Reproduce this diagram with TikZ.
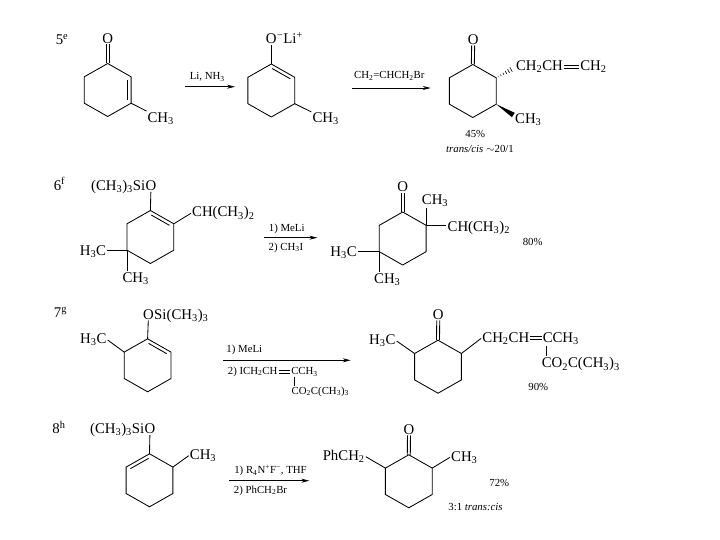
\documentclass[tikz,border=0pt]{standalone}
\usepackage{fontspec}
\setmainfont{Liberation Serif}
\usetikzlibrary{arrows.meta,calc,positioning}

\newcommand{\low}[1]{\textsubscript{#1}}
\newcommand{\high}[1]{\textsuperscript{#1}}
\tikzset{
	atom/.style={inner sep=1pt,font=\fontsize{14.8}{17}\selectfont},
	note/.style={inner sep=1pt,font=\fontsize{10.8}{12}\selectfont},
	bond/.style={line width=.85pt},
	rxn/.style={line width=.65pt,-{Stealth[length=8pt,width=4pt]}}
}
% six ring corners a..f, clockwise from the top
\newcommand{\ringat}[3]{
	\coordinate (#1a) at (#2,#3-26.5);
	\coordinate (#1b) at (#2+23.4,#3-13.2);
	\coordinate (#1c) at (#2+23.4,#3+13.2);
	\coordinate (#1d) at (#2,#3+26.5);
	\coordinate (#1e) at (#2-23.4,#3+13.2);
	\coordinate (#1f) at (#2-23.4,#3-13.2);
	\draw[bond] (#1a) -- (#1b) -- (#1c) -- (#1d) -- (#1e) -- (#1f) -- cycle;
}
\newcommand{\inner}[2]{
	\draw[bond,shorten <=3pt,shorten >=3pt] ($(#1)!3.5pt!-90:(#2)$) -- ($(#2)!3.5pt!90:(#1)$);
}
\newcommand{\dblbond}[2]{
	\path (#1) -- (#2) coordinate[pos=0] (dbp) coordinate[pos=1] (dbq);
	\draw[bond] ($(dbp)!1.5pt!90:(dbq)$) -- ($(dbq)!1.5pt!-90:(dbp)$);
	\draw[bond] ($(dbp)!1.5pt!-90:(dbq)$) -- ($(dbq)!1.5pt!90:(dbp)$);
}

\begin{document}
\begin{tikzpicture}[x=1pt,y=-1pt]
	\path[use as bounding box,fill=white] (0,0) rectangle (720,540);

	% 5
	\node[atom] (numa) at (62,40) {5\high{e}};
	\ringat{ka}{107.7}{90}
	\node[atom] (kao) at (107.7,38.3) {O};
	\node[atom] (kam) at (160.7,118.3) {CH\low{3}};
	\dblbond{kaa}{kao}
	\draw[bond] (kac) -- (kam);
	\inner{kab}{kac}
	\coordinate (arai) at (185,86.7);
	\coordinate (araii) at (235,86.7);
	\draw[rxn] (arai) -- (araii);
	\node[note] (lia) at (207.3,76.7) {Li, NH\low{3}};

	\ringat{kb}{271.3}{90.5}
	\node[atom] (kbo) at (271.3,39) {O};
	\node[atom,anchor=base west,inner sep=0pt] (kbl) at ([xshift=-1pt]kbo.base east) {\high{−}Li\high{+}};
	\node[atom] (kbm) at (325.7,119) {CH\low{3}};
	\draw[bond] (kba) -- (kbo);
	\draw[bond] (kbc) -- (kbm);
	\inner{kba}{kbb}
	\coordinate (arbi) at (351.7,88);
	\coordinate (arbii) at (430.7,88);
	\draw[rxn] (arbi) -- (arbii);
	\node[note] (lib) at (389.3,75.7) {CH\low{2}=CHCH\low{2}Br};

	\ringat{kc}{472.8}{91}
	\node[atom] (kco) at (473.3,39.3) {O};
	\node[atom] (kcm) at (528.3,119.3) {CH\low{3}};
	\node[atom] (allyla) at (539.5,66.7) {CH\low{2}CH};
	\node[atom,right=15pt of allyla] (allylb) {CH\low{2}};
	\coordinate (kch) at (513.3,68.3);
	\coordinate (kcw) at (513.3,115);
	\dblbond{kca}{kco}
	\dblbond{allyla}{allylb}
	\foreach \t in {.12,.27,.42,.57,.72,.87}{
		\pgfmathsetmacro{\w}{\t*2.8}
		\draw[line width=.6pt] ($($(kcb)!\t!(kch)$)!\w pt!90:(kch)$) -- ($($(kcb)!\t!(kch)$)!\w pt!-90:(kch)$);
	}
	\fill (kcc) -- ($(kcw)!2.6pt!90:(kcc)$) -- ($(kcw)!2.6pt!-90:(kcc)$) -- cycle;
	\node[note] (yla) at (475.3,134) {45\%};
	\node[note] (rta) at (480,149.3) {\textit{trans/cis} $\sim$20/1};

	% 6
	\node[atom] (numb) at (59.5,184) {6\high{f}};
	\ringat{kd}{150.4}{237}
	\node[atom] (kdo) at (151,185.7) {O};
	\node[atom,anchor=base east,inner sep=0pt] (kds) at ([xshift=1pt]kdo.base west) {(CH\low{3})\low{3}Si};
	\node[atom] (kdi) at (223.3,213.3) {CH(CH\low{3})\low{2}};
	\node[atom] (kdh) at (93,251.7) {H\low{3}C};
	\node[atom] (kdm) at (135.7,278.3) {CH\low{3}};
	\draw[bond] (kda) -- (kdo);
	\draw[bond] (kdb) -- (kdi.west);
	\draw[bond] (kde) -- (kde -| kdh.east);
	\draw[bond] (kde) -- (kde |- kdm.north);
	\inner{kda}{kdb}
	\coordinate (arci) at (264,237.7);
	\coordinate (arcii) at (317.3,237.7);
	\draw[rxn] (arci) -- (arcii);
	\node[note] (lic) at (286.7,229.3) {1) MeLi};
	\node[note] (lid) at (286,247.7) {2) CH\low{3}I};

	\ringat{ke}{402.7}{238.5}
	\node[atom] (keo) at (402.7,186.7) {O};
	\node[atom] (ket) at (435,200.7) {CH\low{3}};
	\node[atom] (kei) at (478.8,227.7) {CH(CH\low{3})\low{2}};
	\node[atom] (keh) at (343.5,252.3) {H\low{3}C};
	\node[atom] (kem) at (387.3,279.3) {CH\low{3}};
	\dblbond{kea}{keo}
	\draw[bond] (keb) -- (keb |- ket.south);
	\draw[bond] (keb) -- (keb -| kei.west);
	\draw[bond] (kee) -- (kee -| keh.east);
	\draw[bond] (kee) -- (kee |- kem.north);
	\node[note] (ylb) at (532.7,241.7) {80\%};

	% 7
	\node[atom] (numc) at (60.5,312.3) {7\high{g}};
	\ringat{kf}{147.6}{365.3}
	\node[atom] (kfo) at (148.5,314.3) {O};
	\node[atom,anchor=base west,inner sep=0pt] (kfs) at ([xshift=-1pt]kfo.base east) {Si(CH\low{3})\low{3}};
	\node[atom] (kfh) at (93.3,340) {H\low{3}C};
	\draw[bond] (kfa) -- (kfo);
	\draw[bond] (kff) -- (kfh.east);
	\inner{kfa}{kfb}
	\coordinate (ardi) at (223.3,360.3);
	\coordinate (ardii) at (350.7,360.3);
	\draw[rxn] (ardi) -- (ardii);
	\node[note] (lie) at (244.3,350) {1) MeLi};
	\node[note] (lif) at (252.7,371.7) {2) ICH\low{2}CH};
	\node[note] (lig) at (304.5,371.7) {CCH\low{3}};
	\node[note] (lih) at (320.3,391.7) {CO\low{2}C(CH\low{3})\low{3}};
	\dblbond{lif}{lig}
	\draw[line width=.55pt] ([xshift=4pt]lig.south west) -- ([xshift=4pt]lig.south west |- lih.north);

	\ringat{kg}{438}{366.7}
	\node[atom] (kgo) at (438.3,314.3) {O};
	\node[atom] (kgh) at (382.3,341) {H\low{3}C};
	\node[atom] (kgc) at (505.8,338.3) {CH\low{2}CH};
	\node[atom] (kgd) at (560.8,338.3) {CCH\low{3}};
	\node[atom] (kgx) at (580.8,364.3) {CO\low{2}C(CH\low{3})\low{3}};
	\dblbond{kga}{kgo}
	\draw[bond] (kgf) -- (kgh.east);
	\draw[bond] (kgb) -- (kgc.west);
	\dblbond{kgc}{kgd}
	\draw[bond] ([xshift=5pt]kgd.south west) -- ([xshift=5pt]kgd.south west |- kgx.north);
	\node[note] (ylc) at (538.3,386.7) {90\%};

	% 8
	\node[atom] (numd) at (59,427.3) {8\high{h}};
	\ringat{kh}{149.5}{480.3}
	\node[atom] (kho) at (150,429) {O};
	\node[atom,anchor=base east,inner sep=0pt] (khs) at ([xshift=1pt]kho.base west) {(CH\low{3})\low{3}Si};
	\node[atom] (khm) at (203,455.7) {CH\low{3}};
	\draw[bond] (kha) -- (kho);
	\draw[bond] (khb) -- (khm.west);
	\inner{khf}{kha}
	\coordinate (arei) at (229,480.7);
	\coordinate (areii) at (309.3,480.7);
	\draw[rxn] (arei) -- (areii);
	\node[note] (lii) at (270.5,470.7) {1) R\low{4}N\high{+}F\high{−}, THF};
	\node[note] (lij) at (260.5,490.7) {2) PhCH\low{2}Br};

	\ringat{ki}{408.8}{481.3}
	\node[atom] (kio) at (409,429.3) {O};
	\node[atom] (kip) at (343.7,456.7) {PhCH\low{2}};
	\node[atom] (kim) at (464.3,457.3) {CH\low{3}};
	\dblbond{kia}{kio}
	\draw[bond] (kif) -- (kip.east);
	\draw[bond] (kib) -- (kim.west);
	\node[note] (yld) at (499.3,482.7) {72\%};
	\node[note] (rtb) at (475.5,507.3) {3:1 \textit{trans:cis}};
\end{tikzpicture}
\end{document}
